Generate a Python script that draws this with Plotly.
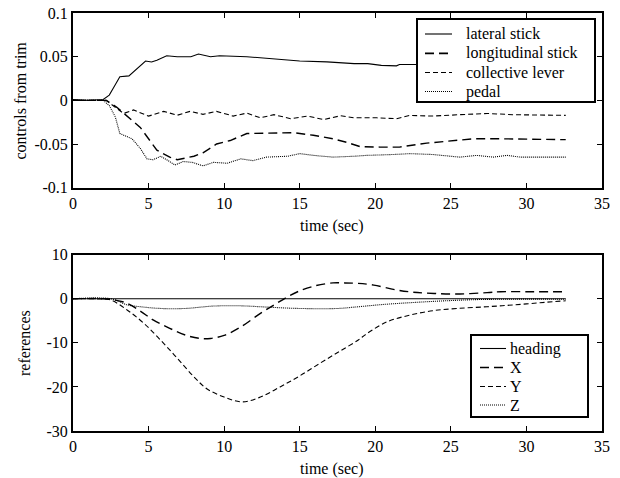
import plotly.graph_objects as go

# ---------------- data: top panel (controls from trim) ----------------
lateral_t = [0, 1, 2.0, 2.4, 2.7, 3.1, 3.7, 4.3, 4.8, 5.2, 5.55, 6.2, 6.9, 7.8, 8.3, 9.1, 9.7,
             11.5, 13.3, 15.0, 16.8, 18.6, 19.5, 20.4, 21.4, 21.6, 22.75, 25, 28, 30, 32.6]
lateral_v = [0.001, 0.0, 0.001, 0.006, 0.015, 0.027, 0.028, 0.037, 0.045, 0.044, 0.046, 0.051,
             0.050, 0.050, 0.053, 0.050, 0.051, 0.050, 0.047, 0.045, 0.044, 0.042, 0.042, 0.040,
             0.0395, 0.041, 0.041, 0.042, 0.042, 0.042, 0.042]

longitudinal_t = [0, 2.2, 2.9, 3.9, 4.45, 5.55, 6.4, 6.9, 8.0, 8.6, 9.5, 10.4, 11.5, 12.8, 14.6,
                  15.9, 17.2, 18.1, 19.0, 20.3, 21.6, 23.4, 25.0, 26.5, 28.3, 30.5, 32.6]
longitudinal_v = [0, 0, -0.008, -0.023, -0.031, -0.057, -0.065, -0.068, -0.064, -0.060, -0.050,
                  -0.046, -0.038, -0.0375, -0.037, -0.040, -0.044, -0.048, -0.053, -0.0535,
                  -0.0535, -0.049, -0.046, -0.044, -0.044, -0.0445, -0.045]

collective_t = [0, 2.2, 2.8, 3.35, 4.0, 5.0, 6.0, 6.9, 7.75, 8.6, 9.5, 10.6, 11.5, 12.4, 13.3,
                14.4, 15.5, 16.6, 17.7, 18.6, 20.1, 21.4, 22.3, 23.8, 25.6, 27.4, 29.1, 30.4, 32.6]
collective_v = [0, 0, -0.008, -0.015, -0.011, -0.018, -0.0126, -0.017, -0.0126, -0.016, -0.0126,
                -0.018, -0.0146, -0.020, -0.0164, -0.021, -0.018, -0.022, -0.0176, -0.020, -0.020,
                -0.021, -0.0172, -0.018, -0.0164, -0.015, -0.0164, -0.0164, -0.0172]

pedal_t = [0, 2.0, 2.4, 2.8, 3.1, 3.6, 3.9, 4.45, 4.9, 5.3, 5.8, 6.2, 6.75, 7.3, 7.9, 8.6, 9.3,
           10.2, 11.1, 11.9, 12.8, 14.2, 15.0, 15.9, 17.2, 18.6, 19.4, 21.2, 22.3, 23.8, 25.6,
           26.7, 27.8, 28.7, 29.6, 32.6]
pedal_v = [0, 0, -0.006, -0.019, -0.038, -0.042, -0.044, -0.055, -0.067, -0.068, -0.064, -0.068,
           -0.074, -0.070, -0.071, -0.075, -0.071, -0.072, -0.067, -0.069, -0.065, -0.064, -0.061,
           -0.063, -0.065, -0.064, -0.063, -0.062, -0.061, -0.062, -0.065, -0.063, -0.065, -0.063,
           -0.065, -0.065]

# ---------------- data: bottom panel (references) ----------------
heading_t = [0, 32.6]
heading_v = [0, 0]

x_t = [0, 2.0, 2.8, 3.6, 4.5, 5.3, 6.4, 7.5, 8.4, 9.1, 10.0, 11.1, 12.4, 13.3, 14.2, 15.0, 16.1,
       17.2, 17.9, 18.8, 19.9, 21.4, 22.5, 23.9, 25.6, 27.4, 28.3, 30.5, 32.6]
x_v = [0, 0, -0.3, -1.05, -2.9, -4.8, -6.7, -8.3, -9.0, -9.0, -8.3, -6.4, -3.3, -1.4, 0.45, 1.8,
       3.0, 3.6, 3.6, 3.5, 3.1, 2.0, 1.5, 1.2, 1.1, 1.4, 1.6, 1.6, 1.6]

y_t = [0, 1.5, 2.5, 3.6, 4.7, 5.8, 6.9, 8.0, 8.85, 10.0, 11.2, 12.4, 13.7, 15.0, 16.4, 17.7, 18.9,
       19.4, 20.8, 22.3, 23.8, 25.4, 27.4, 29.1, 30.9, 32.6]
y_v = [0, 0, -0.3, -2.6, -5.6, -9.4, -13.5, -17.7, -20.4, -22.3, -23.4, -22.3, -20.0, -17.5,
       -14.5, -11.8, -9.3, -8.0, -5.2, -3.7, -2.7, -2.2, -1.8, -1.4, -0.9, -0.45]

z_t = [0, 2.5, 3.6, 4.45, 5.8, 7.4, 9.3, 11.1, 12.9, 15.0, 17.5, 18.6, 20.5, 22.75, 24.7, 27.2, 32.6]
z_v = [0, 0, -1.4, -1.8, -2.2, -2.2, -1.65, -1.6, -1.9, -2.2, -2.2, -1.9, -1.3, -0.8, -0.45, -0.15, -0.1]

# ---------------- tick labels / texts ----------------
x_ticks = [0, 5, 10, 15, 20, 25, 30, 35]
top_ticks = [0.1, 0.05, 0, -0.05, -0.1]
top_ticktext = ["0.1", "0.05", "0", "-0.05", "-0.1"]
bot_ticks = [10, 0, -10, -20, -30]
bot_ticktext = ["10", "0", "-10", "-20", "-30"]
top_names = ["lateral stick", "longitudinal stick", "collective lever", "pedal"]
bot_names = ["heading", "X", "Y", "Z"]
dashes = ["solid", "9px,5px", "5px,3px", "1px,1px"]
widths = [1.1, 1.4, 1.1, 1.1]

FONT = "Liberation Serif"
FS = 16
W, H = 620, 478
ML, MR, MT, MB = 73, 18, 13, 47
PW, PH = W - ML - MR, H - MT - MB


def px(xp):
    return (xp - ML) / PW


def py(yp):
    return (H - MB - yp) / PH


fig = go.Figure()

top_series = [(lateral_t, lateral_v), (longitudinal_t, longitudinal_v),
              (collective_t, collective_v), (pedal_t, pedal_v)]
bot_series = [(heading_t, heading_v), (x_t, x_v), (y_t, y_v), (z_t, z_v)]

for (t, v), name, d, w in zip(top_series, top_names, dashes, widths):
    fig.add_trace(go.Scatter(x=t, y=v, name=name, mode="lines", xaxis="x", yaxis="y",
                             showlegend=False,
                             line=dict(color="black", width=w, dash=d)))
for (t, v), name, d, w in zip(bot_series, bot_names, dashes, widths):
    fig.add_trace(go.Scatter(x=t, y=v, name=name, mode="lines", xaxis="x2", yaxis="y2",
                             showlegend=False,
                             line=dict(color="black", width=w, dash=d, shape="spline")))

axis_common = dict(showline=True, linecolor="black", linewidth=2, mirror="ticks",
                   ticks="inside", ticklen=5, tickcolor="black", tickwidth=1,
                   showgrid=False, zeroline=False, automargin=False,
                   tickfont=dict(family=FONT, size=FS, color="black"))

shapes = []
annotations = []


def legend_box(x0, y0, x1, y1, rows, sx0, sx1, tx, names):
    shapes.append(dict(type="rect", xref="paper", yref="paper",
                       x0=px(x0), x1=px(x1), y0=py(y1), y1=py(y0),
                       fillcolor="white", line=dict(color="black", width=2), layer="above"))
    for ry, name, d, w in zip(rows, names, dashes, widths):
        shapes.append(dict(type="line", xref="paper", yref="paper",
                           x0=px(sx0), x1=px(sx1), y0=py(ry), y1=py(ry),
                           line=dict(color="black", width=w + 0.3 if w > 1.2 else w, dash=d),
                           layer="above"))
        annotations.append(dict(text=name, xref="paper", yref="paper", x=px(tx), y=py(ry),
                                xanchor="left", yanchor="middle", showarrow=False,
                                font=dict(family=FONT, size=FS, color="black")))


legend_box(417, 19, 595, 102, [34, 53.3, 72.5, 91.5], 425, 452, 464, top_names)
legend_box(471, 335, 588, 417, [348.5, 367.5, 386.5, 405], 480, 506, 508, bot_names)

# axis titles
for text, x, y, ang in [("time (sec)", 0.489, py(226), 0), ("time (sec)", 0.489, py(469), 0),
                        ("controls from trim", px(20), py(100.5), -90),
                        ("references", px(24), py(343), -90)]:
    annotations.append(dict(text=text, xref="paper", yref="paper", x=x, y=y,
                            xanchor="center", yanchor="middle", showarrow=False,
                            textangle=ang, font=dict(family=FONT, size=FS, color="black")))

fig.update_layout(
    width=W, height=H,
    margin=dict(l=ML, r=MR, t=MT, b=MB),
    paper_bgcolor="white", plot_bgcolor="white",
    font=dict(family=FONT, size=FS, color="black"),
    xaxis=dict(domain=[0, 1], range=[0, 35], tickvals=x_ticks, anchor="y", **axis_common),
    yaxis=dict(domain=[py(187.7), 1], range=[-0.1, 0.1], tickvals=top_ticks,
               ticktext=top_ticktext, anchor="x", **axis_common),
    xaxis2=dict(domain=[0, 1], range=[0, 35], tickvals=x_ticks, anchor="y2", **axis_common),
    yaxis2=dict(domain=[0, py(254.7)], range=[-30, 10], tickvals=bot_ticks,
                ticktext=bot_ticktext, anchor="x2", **axis_common),
    shapes=shapes,
    annotations=annotations,
    showlegend=False,
)

fig.write_html("out.html")
